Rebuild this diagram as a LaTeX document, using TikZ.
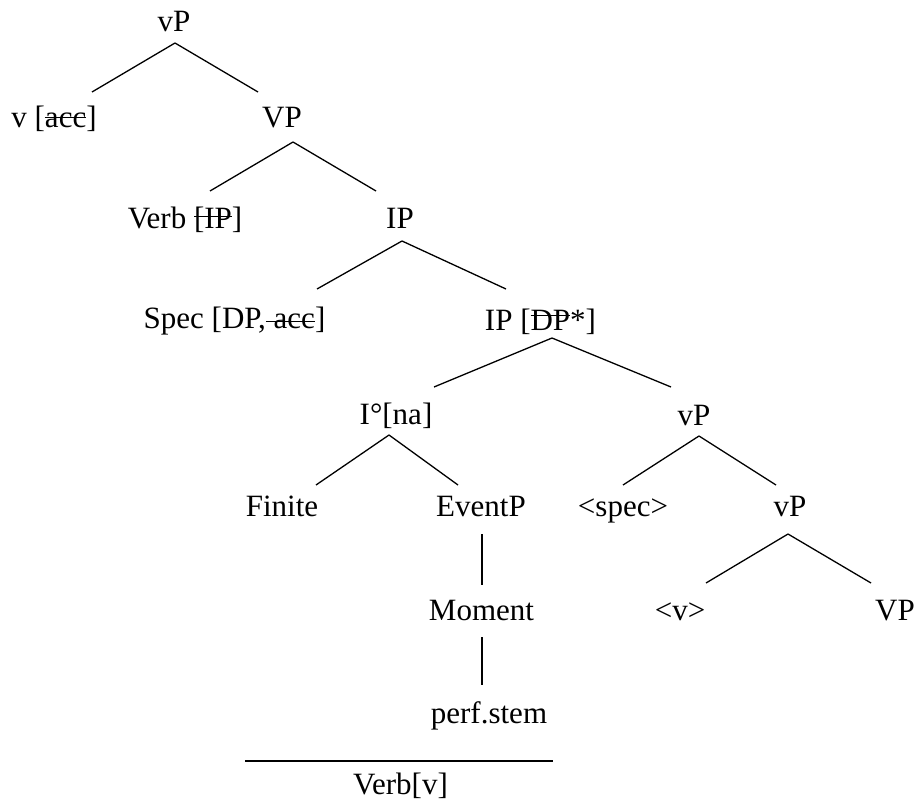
\documentclass[tikz,border=0pt]{standalone}
\usepackage{fontspec}
\setmainfont{Liberation Serif}
\usetikzlibrary{calc}
\newcommand\strk[2]{\setbox0\hbox{#2}\rlap{\rule[#1]{\wd0}{1.3pt}}\box0}
\tikzset{
  lbl/.style={anchor=base, inner sep=0pt, font=\fontsize{31}{37}\selectfont},
  edge/.style={line width=1.3pt}
}
\begin{document}
\begin{tikzpicture}[x=1pt,y=1pt]
\useasboundingbox (0,0) rectangle (917,-800);
% nodes (x = centre, y = -baseline)
\node[lbl] (vP0)    at (174,-32)    {vP};
\node[lbl] (vacc)   at (54,-127)    {v [\strk{9pt}{acc}]};
\node[lbl] (VP1)    at (282,-127)   {VP};
\node[lbl] (verbIP) at (185,-228)   {Verb \strk{11pt}{[IP}]};
\node[lbl] (IP1)    at (400,-228)   {IP};
\node[lbl] (spec)   at (234.5,-328) {Spec [DP,\strk{6pt}{\ acc}]};
\node[lbl] (IPDP)   at (540.5,-330) {IP [\strk{14pt}{DP}*]};
\node[lbl] (Ina)    at (396,-424)   {I°[na]};
\node[lbl] (vP2)    at (694,-425)   {vP};
\node[lbl] (finite) at (282,-516)   {Finite};
\node[lbl] (eventP) at (481,-516)   {EventP};
\node[lbl] (spec2)  at (623,-516)   {<spec>};
\node[lbl] (vP3)    at (790,-516)   {vP};
\node[lbl] (moment) at (481.5,-620) {Moment};
\node[lbl] (vang)   at (680,-620)   {<v>};
\node[lbl] (VP2)    at (895,-620)   {VP};
\node[lbl] (perf)   at (489,-723)   {perf.stem};
\node[lbl] (verbv)  at (400.5,-794) {Verb[v]};
% connectors
\draw[edge] ($(vP0.base)+(1,-11)$) -- ($(vacc.base)+(38,35)$);
\draw[edge] ($(vP0.base)+(1,-11)$) -- ($(VP1.base)+(-24,35)$);
\draw[edge] ($(VP1.base)+(11,-15)$) -- ($(verbIP.base)+(25,37)$);
\draw[edge] ($(VP1.base)+(11,-15)$) -- ($(IP1.base)+(-24,37)$);
\draw[edge] ($(IP1.base)+(2,-13)$) -- ($(spec.base)+(82.5,39)$);
\draw[edge] ($(IP1.base)+(2,-13)$) -- ($(IPDP.base)+(-34.5,41)$);
\draw[edge] ($(IPDP.base)+(11.5,-8)$) -- ($(Ina.base)+(38,37)$);
\draw[edge] ($(IPDP.base)+(11.5,-8)$) -- ($(vP2.base)+(-23,38)$);
\draw[edge] ($(Ina.base)+(-7,-11)$) -- ($(finite.base)+(34,31)$);
\draw[edge] ($(Ina.base)+(-7,-11)$) -- ($(eventP.base)+(-23,31)$);
\draw[edge] ($(vP2.base)+(5,-11)$) -- ($(spec2.base)+(0,31)$);
\draw[edge] ($(vP2.base)+(5,-11)$) -- ($(vP3.base)+(-14,31)$);
\draw[edge] ($(vP3.base)+(-2,-18)$) -- ($(vang.base)+(26,37)$);
\draw[edge] ($(vP3.base)+(-2,-18)$) -- ($(VP2.base)+(-24,37)$);
\draw[edge] ($(eventP.base)+(1,-18)$) -- ($(moment.base)+(0.5,35)$);
\draw[edge] ($(moment.base)+(0.5,-17)$) -- ($(perf.base)+(-7,38)$);
\draw[edge] ($(verbv.base)+(-155.5,33)$) -- ($(verbv.base)+(152.5,33)$);
\end{tikzpicture}
\end{document}
